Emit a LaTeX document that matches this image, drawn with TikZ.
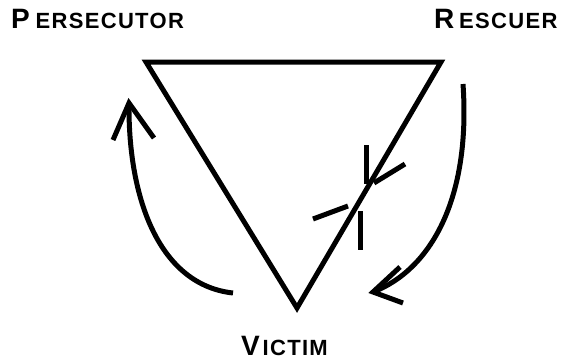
\documentclass[tikz,border=0pt]{standalone}
\usepackage{fontspec}
\setmainfont{Liberation Sans}
\newfontfamily\spacedfont[LetterSpace=6]{Liberation Sans Bold}
\newcommand{\mybigletter}[1]{{\spacedfont\fontsize{28}{28}\selectfont #1}}
\newcommand{\mysmallletters}[1]{{\spacedfont\fontsize{22}{22}\selectfont #1}}
\begin{document}
\begin{tikzpicture}[x=1pt,y=-1pt,
  stroke/.style={line width=5pt,line cap=butt},
  lbl/.style={anchor=base west,inner sep=0pt,outer sep=0pt}]
\useasboundingbox (0,0) rectangle (568,362);
% triangle corners
\coordinate (P) at (146,62);
\coordinate (R) at (441,62);
\coordinate (V) at (297,308);
\draw[stroke,line join=miter] (P) -- (R) -- (V) -- cycle;
% labels
\node[lbl] (tp) at (11,28) {\mybigletter{P}\hspace{6pt}\mysmallletters{ERSECUTOR}};
\node[lbl] (tr) at (434,28) {\mybigletter{R}\hspace{5pt}\mysmallletters{ESCUER}};
\node[lbl] (tv) at (241,355) {\mybigletter{V}\hspace{3pt}\mysmallletters{ICTIM}};
% left arrow
\coordinate (l0) at (233,293);
\coordinate (l1) at (129,103);
\coordinate (la) at (113,140);
\coordinate (lb) at (154,138);
\draw[stroke] (l0) .. controls (160,285) and (128,200) .. (l1);
\draw[stroke,line join=miter] (la) -- (l1) -- (lb);
% right arrow
\coordinate (r0) at (463,84);
\coordinate (r1) at (373,292);
\coordinate (ra) at (400,267);
\coordinate (rb) at (403,303);
\draw[stroke] (r0) .. controls (471,200) and (430,270) .. (r1);
\draw[stroke,line join=miter] (ra) -- (r1) -- (rb);
% cut marks
\coordinate (m1a) at (366,145);
\coordinate (m1b) at (366,184);
\coordinate (m2a) at (374,183);
\coordinate (m2b) at (405,164);
\coordinate (m3a) at (313,219);
\coordinate (m3b) at (348,206);
\coordinate (m4a) at (360,211);
\coordinate (m4b) at (360,250);
\draw[stroke] (m1a) -- (m1b);
\draw[stroke] (m2a) -- (m2b);
\draw[stroke] (m3a) -- (m3b);
\draw[stroke] (m4a) -- (m4b);
\end{tikzpicture}
\end{document}
